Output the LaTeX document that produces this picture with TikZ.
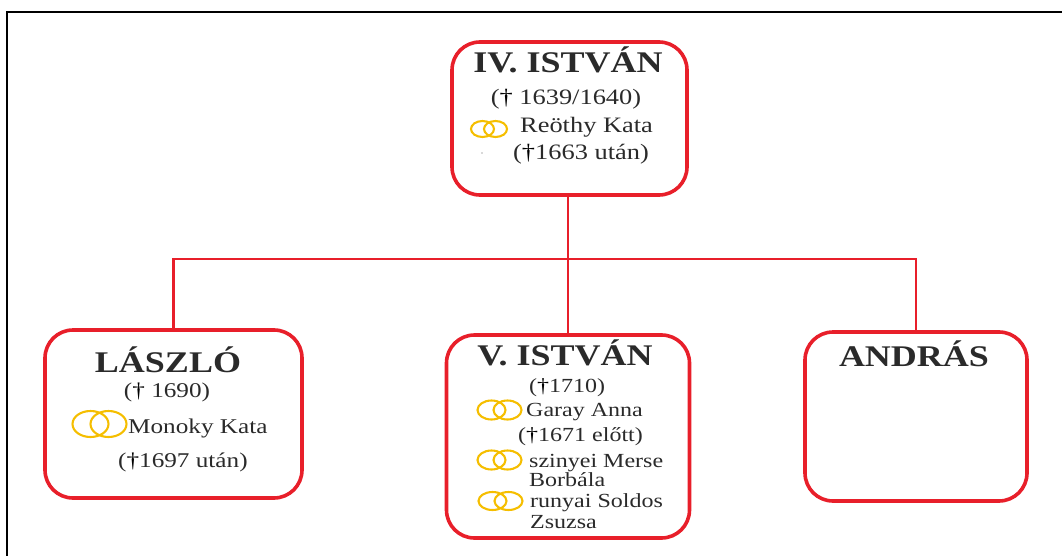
\documentclass[tikz,border=0pt]{standalone}
\usepackage{fontspec}
\setmainfont{Liberation Serif}[FakeStretch=1.2]
\definecolor{boxred}{HTML}{E81F2A}
\definecolor{txt}{HTML}{2A2A2A}
\definecolor{ringgold}{HTML}{F5BE00}
\newcommand\dg{{\color{black}†}}
\newcommand\weddingrings[6]{% name cx cy rx ry d
  \draw[ring] ({#2-#6/2},#3) ellipse (#4pt and #5pt);
  \draw[ring] ({#2+#6/2},#3) ellipse (#4pt and #5pt);
  \coordinate (#1) at (#2,#3);}
\begin{document}
\begin{tikzpicture}[x=1pt,y=-1pt,
  box/.style={draw=boxred, line width=3.6pt, rounded corners=28pt, inner sep=0pt},
  conn/.style={draw=boxred, line width=2.4pt},
  ring/.style={draw=ringgold, line width=2.1pt},
  title/.style={font=\bfseries\fontsize{30}{36}\selectfont, text=txt, anchor=base, inner sep=0pt},
  bodyA/.style={font=\fontsize{22}{26}\selectfont, text=txt, inner sep=0pt},
  bodyB/.style={font=\fontsize{21}{25}\selectfont, text=txt, inner sep=0pt},
  bodyC/.style={font=\fontsize{20}{24}\selectfont, text=txt, inner sep=0pt},
  frame/.style={draw=black, line width=2pt}]
\useasboundingbox (0,0) rectangle (1062,556);
% outer frame (cropped)
\coordinate (fTL) at (7,12);
\coordinate (fTR) at (1062,12);
\coordinate (fBL) at (7,556);
\draw[frame] (fBL) -- (fTL) -- (fTR);

% boxes
\node[box, minimum width=235pt, minimum height=153pt] (top) at (569.5,118.5) {};
\node[box, minimum width=257pt, minimum height=168pt] (laszlo) at (173.5,414) {};
\node[box, minimum width=243pt, minimum height=203pt] (vist) at (568,436.5) {};
\node[box, minimum width=222pt, minimum height=169pt] (andras) at (916,416.5) {};

% connectors
\coordinate (bar) at (0,259);
\draw[conn] (vist.north |- top.south) -- (vist.north);
\draw[conn] (laszlo.north) |- (andras.north |- bar) -- (andras.north);

% IV. Istvan
\node[title] (t1) at (568,73) {IV. ISTVÁN};
\node[bodyA, anchor=base] (t1a) at (566,105) {(\dg\ 1639/1640)};
\weddingrings{r1}{489}{129}{11.5}{8}{13}
\node[bodyA, anchor=base west] (t1b) at (520,133) {Reöthy Kata};
\fill[gray!60] (482,153) circle (0.9pt);
\node[bodyA, anchor=base west] (t1c) at (513,160) {(\dg1663 után)};

% Laszlo
\node[title] (t2) at (168,372) {LÁSZLÓ};
\node[bodyB, anchor=base] (t2a) at (167,397) {(\dg\ 1690)};
\weddingrings{r2}{99.5}{424}{18}{13}{18}
\node[bodyB, anchor=base west] (t2b) at (128,433) {Monoky Kata};
\node[bodyB, anchor=base west] (t2c) at (118,467) {(\dg1697 után)};

% V. Istvan
\node[title] (t3) at (565,365) {V. ISTVÁN};
\node[bodyC, anchor=base] (t3a) at (567,392) {(\dg1710)};
\weddingrings{r3}{499.5}{410}{14}{9.5}{16}
\node[bodyC, anchor=base west] (t3b) at (526,416) {Garay Anna};
\node[bodyC, anchor=base west] (t3c) at (518,441) {(\dg1671 előtt)};
\weddingrings{r4}{499.5}{460}{14}{9.5}{16}
\node[bodyC, anchor=base west] (t3d) at (529,467) {szinyei Merse};
\node[bodyC, anchor=base west] (t3e) at (529,486) {Borbála};
\weddingrings{r5}{500.5}{501}{14}{9}{16}
\node[bodyC, anchor=base west] (t3f) at (530,507) {runyai Soldos};
\node[bodyC, anchor=base west] (t3g) at (530,528) {Zsuzsa};

% Andras
\node[title] (t4) at (914,366) {ANDRÁS};
\end{tikzpicture}
\end{document}
